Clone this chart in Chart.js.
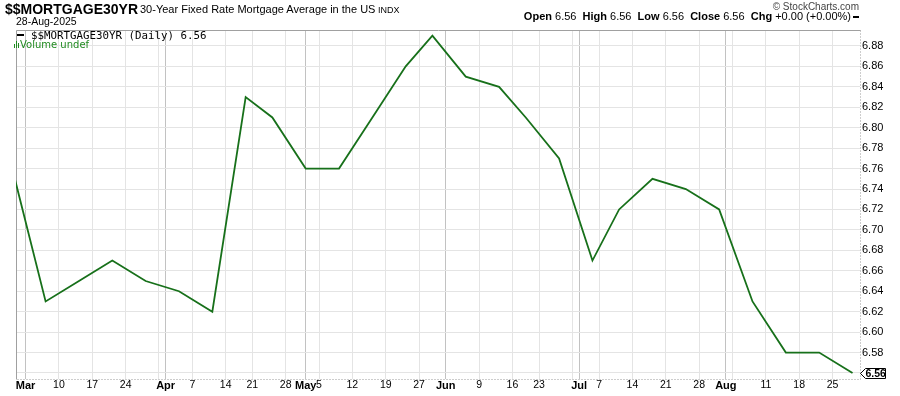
<!DOCTYPE html>
<html>
<head>
<meta charset="utf-8">
<script src="https://cdn.jsdelivr.net/npm/chart.js@4/dist/chart.umd.min.js"></script>
<style>
  body { margin: 0; width: 900px; height: 396px; background: #fff; position: relative; overflow: hidden; }
  canvas { position: absolute; left: 0; top: 0; }
  .t { position: absolute; white-space: nowrap; line-height: 1; font-family: "Liberation Sans", Arial, sans-serif; color: #000; }
  .title { left: 5px; top: 2px; font-size: 14px; font-weight: bold; }
  .sub { left: 140px; top: 4px; font-size: 11px; }
  .indx { left: 378px; top: 6px; font-size: 9px; }
  .date { left: 16px; top: 15.5px; font-size: 10.5px; }
  .copy { right: 41px; top: 1.5px; font-size: 10px; color: #444; }
  .ohlc { right: 41px; top: 10.5px; font-size: 11px; }
  .ohlc b { font-weight: bold; }
  .dash { display: inline-block; width: 6px; height: 2px; background: #000; vertical-align: middle; margin-left: 2px; }
  .leg { left: 31px; top: 30.5px; font-family: "DejaVu Sans Mono", monospace; font-size: 10.8px; }
  .legdash { position: absolute; left: 17px; top: 33.5px; width: 7px; height: 2px; background: #000; }
  .vol { left: 20px; top: 39.5px; font-family: "DejaVu Sans", sans-serif; font-size: 10px; color: #208a20; }
  .volicon { position: absolute; left: 14px; top: 41px; width: 6px; height: 7px; }
  .volicon span { position: absolute; bottom: 0; width: 1px; background: #208a20; }
</style>
</head>
<body>
<canvas id="chart" width="900" height="396"></canvas>

<div class="t title">$$MORTGAGE30YR</div>
<div class="t sub">30-Year Fixed Rate Mortgage Average in the US</div>
<div class="t indx">INDX</div>
<div class="t date">28-Aug-2025</div>
<div class="t copy">© StockCharts.com</div>
<div class="t ohlc"><b>Open</b> 6.56&nbsp; <b>High</b> 6.56&nbsp; <b>Low</b> 6.56&nbsp; <b>Close</b> 6.56&nbsp; <b>Chg</b> +0.00 (+0.00%)<span class="dash"></span></div>
<div class="legdash"></div>
<div class="t leg">$$MORTGAGE30YR (Daily) 6.56</div>
<div class="volicon"><span style="left:0;height:4px"></span><span style="left:2px;height:7px"></span><span style="left:4px;height:5px"></span></div>
<div class="t vol">Volume undef</div>

<script>
// weekly survey dates and rates
const rateDates = ['2025-02-27', '2025-03-06', '2025-03-13', '2025-03-20', '2025-03-27', '2025-04-03', '2025-04-10',
    '2025-04-17', '2025-04-24', '2025-05-01', '2025-05-08', '2025-05-15', '2025-05-22', '2025-05-29', '2025-06-05',
    '2025-06-12', '2025-06-18', '2025-06-26', '2025-07-03', '2025-07-10', '2025-07-17', '2025-07-24', '2025-07-31',
    '2025-08-07', '2025-08-14', '2025-08-21', '2025-08-28'];
const rates = [6.76, 6.63, 6.65, 6.67, 6.65, 6.64, 6.62,
    6.83, 6.81, 6.76, 6.76, 6.81, 6.86, 6.89, 6.85,
    6.84, 6.81, 6.77, 6.67, 6.72, 6.75, 6.74, 6.72,
    6.63, 6.58, 6.58, 6.56];

// market holidays skipped on the daily axis
const holidays = ['2025-04-18', '2025-05-26', '2025-06-19', '2025-07-04'];

const tickDates = ['2025-03-03', '2025-03-10', '2025-03-17', '2025-03-24', '2025-03-31', '2025-04-01', '2025-04-07',
    '2025-04-14', '2025-04-21', '2025-04-28', '2025-05-01', '2025-05-05', '2025-05-12', '2025-05-19', '2025-05-27',
    '2025-06-02', '2025-06-09', '2025-06-16', '2025-06-23', '2025-06-30', '2025-07-01', '2025-07-07', '2025-07-14',
    '2025-07-21', '2025-07-28', '2025-08-01', '2025-08-04', '2025-08-11', '2025-08-18', '2025-08-25'];
const tickLabels = ['Mar', '10', '17', '24', '', 'Apr', '7',
    '14', '21', '28', 'May', '5', '12', '19', '27',
    'Jun', '9', '16', '23', '', 'Jul', '7', '14',
    '21', '28', 'Aug', '', '11', '18', '25'];
const monthLabels = ['Mar', 'Apr', 'May', 'Jun', 'Jul', 'Aug'];

const yTicks = [6.56, 6.58, 6.60, 6.62, 6.64, 6.66, 6.68, 6.70, 6.72, 6.74, 6.76, 6.78, 6.80, 6.82, 6.84, 6.86, 6.88];

const lineColor = '#17701a';
const fontFamily = '"Liberation Sans", Arial, sans-serif';

// count trading days from Mar 3 2025
function tradingIndex(ds) {
    const start = new Date('2025-03-03T00:00:00Z');
    const target = new Date(ds + 'T00:00:00Z');
    const step = target >= start ? 1 : -1;
    let n = 0;
    let cur = new Date(start);
    while (cur.getTime() !== target.getTime()) {
        cur.setUTCDate(cur.getUTCDate() + step);
        const wd = cur.getUTCDay();
        const iso = cur.toISOString().slice(0, 10);
        if (wd !== 0 && wd !== 6 && !holidays.includes(iso)) n += step;
    }
    return n;
}

function isMonthTick(i) {
    return monthLabels.includes(tickLabels[i]);
}

const lastRate = rates[rates.length - 1];

// solid left/top edges, dotted right/bottom axis lines
const framePlugin = {
    id: 'frame',
    beforeDatasetsDraw(chart) {
        const { ctx, chartArea } = chart;
        const l = Math.round(chartArea.left) + 0.5;
        const t = Math.round(chartArea.top) + 0.5;
        const r = Math.round(chartArea.right) + 0.5;
        const b = Math.round(chartArea.bottom) + 0.5;
        ctx.save();
        ctx.lineWidth = 1;
        ctx.strokeStyle = '#a0a0a0';
        ctx.beginPath();
        ctx.moveTo(l, b);
        ctx.lineTo(l, t);
        ctx.lineTo(r, t);
        ctx.stroke();
        ctx.strokeStyle = '#9a9a9a';
        ctx.setLineDash([1, 2]);
        ctx.beginPath();
        ctx.moveTo(r, t);
        ctx.lineTo(r, b);
        ctx.lineTo(l, b);
        ctx.stroke();
        ctx.restore();
    }
};

const lastTagPlugin = {
    id: 'lastTag',
    afterDraw(chart) {
        const { ctx, chartArea } = chart;
        const y = Math.round(chart.scales.y.getPixelForValue(lastRate)) + 0.5;
        const x = Math.round(chartArea.right) + 0.5;
        ctx.save();
        ctx.beginPath();
        ctx.moveTo(x, y);
        ctx.lineTo(x + 5, y - 5);
        ctx.lineTo(x + 25, y - 5);
        ctx.lineTo(x + 25, y + 5);
        ctx.lineTo(x + 5, y + 5);
        ctx.closePath();
        ctx.fillStyle = '#fff';
        ctx.fill();
        ctx.strokeStyle = '#000';
        ctx.lineWidth = 1;
        ctx.stroke();
        ctx.fillStyle = '#000';
        ctx.font = 'bold 10.5px ' + fontFamily;
        ctx.textBaseline = 'middle';
        ctx.textAlign = 'left';
        ctx.fillText(lastRate.toFixed(2), x + 5, y + 0.5);
        ctx.restore();
    }
};

document.addEventListener('DOMContentLoaded', function () {
    const points = rateDates.map((d, i) => ({ x: tradingIndex(d), y: rates[i] }));
    const ctx = document.getElementById('chart').getContext('2d');

    new Chart(ctx, {
        type: 'line',
        data: {
            datasets: [{
                data: points,
                borderColor: lineColor,
                borderWidth: 1.8,
                pointRadius: 0,
                tension: 0,
                fill: false
            }]
        },
        options: {
            responsive: false,
            animation: false,
            layout: { padding: { left: 16, top: 30, right: 0, bottom: 0 } },
            plugins: {
                legend: { display: false },
                tooltip: { enabled: false }
            },
            scales: {
                x: {
                    type: 'linear',
                    min: -1.44,
                    max: 125.12,
                    afterBuildTicks: scale => {
                        scale.ticks = tickDates.map(d => ({ value: tradingIndex(d) }));
                    },
                    afterFit: scale => { scale.height = 17; },
                    grid: {
                        color: c => isMonthTick(c.index) ? '#c2c2c2' : '#e4e4e4',
                        drawTicks: false
                    },
                    border: { display: false },
                    ticks: {
                        autoSkip: false,
                        maxRotation: 0,
                        padding: 0,
                        color: '#000',
                        font: c => isMonthTick(c.index)
                            ? { family: fontFamily, size: 11, weight: 'bold' }
                            : { family: fontFamily, size: 10.5 },
                        callback: (v, i) => tickLabels[i]
                    }
                },
                y: {
                    position: 'right',
                    min: 6.5541,
                    max: 6.8956,
                    afterBuildTicks: scale => {
                        scale.ticks = yTicks.map(v => ({ value: v }));
                    },
                    afterFit: scale => { scale.width = 40; },
                    grid: { color: '#e4e4e4', drawTicks: false },
                    border: { display: false },
                    ticks: {
                        padding: 2,
                        color: '#000',
                        font: { family: fontFamily, size: 11 },
                        callback: v => Math.abs(v - lastRate) < 0.001 ? '' : v.toFixed(2)
                    }
                }
            }
        },
        plugins: [framePlugin, lastTagPlugin]
    });
});
</script>
</body>
</html>
